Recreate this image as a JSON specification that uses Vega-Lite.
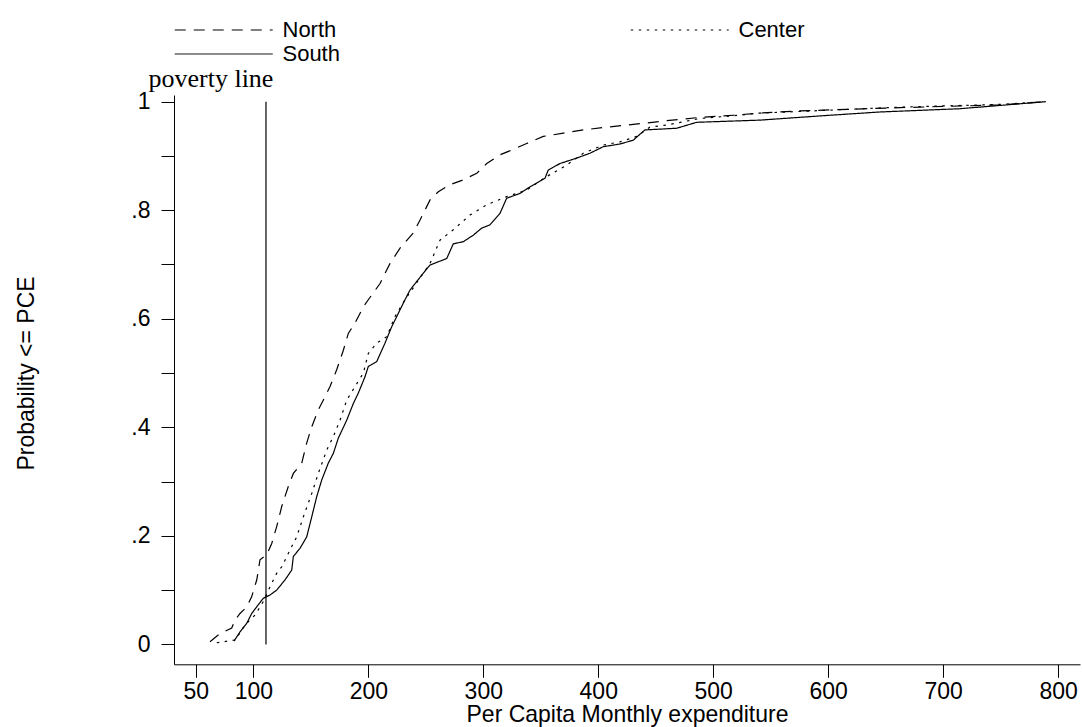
{
  "$schema": "https://vega.github.io/schema/vega-lite/v6.json",
  "width": 906,
  "height": 569.3,
  "autosize": {"type": "none"},
  "padding": {"left": 174, "top": 95, "right": 2, "bottom": 63},
  "background": "white",
  "config": {
    "view": {"stroke": null},
    "font": "Liberation Sans",
    "axis": {
      "domainColor": "black", "domainWidth": 1, "tickColor": "black", "tickWidth": 1,
      "labelColor": "black", "titleColor": "black", "titleFontWeight": "normal",
      "labelFont": "Liberation Sans", "titleFont": "Liberation Sans", "grid": false
    },
    "legend": {"labelFont": "Liberation Sans", "labelColor": "black"}
  },
  "datasets": {
    "cdf": [
      {"region":"North","pce":62.3,"p":0.005},{"region":"North","pce":71.0,"p":0.020},{"region":"North","pce":81.2,"p":0.030},{"region":"North","pce":84.1,"p":0.045},{"region":"North","pce":88.4,"p":0.057},{"region":"North","pce":94.3,"p":0.069},{"region":"North","pce":98.6,"p":0.088},{"region":"North","pce":103.0,"p":0.119},{"region":"North","pce":105.8,"p":0.156},{"region":"North","pce":111.7,"p":0.165},{"region":"North","pce":116.0,"p":0.186},{"region":"North","pce":120.3,"p":0.217},{"region":"North","pce":124.7,"p":0.254},{"region":"North","pce":130.4,"p":0.291},{"region":"North","pce":134.8,"p":0.315},{"region":"North","pce":142.1,"p":0.334},{"region":"North","pce":146.4,"p":0.371},{"region":"North","pce":150.8,"p":0.401},{"region":"North","pce":156.5,"p":0.432},{"region":"North","pce":162.3,"p":0.456},{"region":"North","pce":166.7,"p":0.475},{"region":"North","pce":172.5,"p":0.506},{"region":"North","pce":178.3,"p":0.542},{"region":"North","pce":182.6,"p":0.573},{"region":"North","pce":188.4,"p":0.592},{"region":"North","pce":195.7,"p":0.622},{"region":"North","pce":200.0,"p":0.635},{"region":"North","pce":210.2,"p":0.665},{"region":"North","pce":218.9,"p":0.702},{"region":"North","pce":227.6,"p":0.730},{"region":"North","pce":239.1,"p":0.758},{"region":"North","pce":245.0,"p":0.782},{"region":"North","pce":253.7,"p":0.819},{"region":"North","pce":260.9,"p":0.834},{"region":"North","pce":271.0,"p":0.847},{"region":"North","pce":282.6,"p":0.856},{"region":"North","pce":294.3,"p":0.868},{"region":"North","pce":303.0,"p":0.886},{"region":"North","pce":314.5,"p":0.902},{"region":"North","pce":326.1,"p":0.912},{"region":"North","pce":337.7,"p":0.923},{"region":"North","pce":352.2,"p":0.936},{"region":"North","pce":369.6,"p":0.942},{"region":"North","pce":387.0,"p":0.948},{"region":"North","pce":407.3,"p":0.953},{"region":"North","pce":430.4,"p":0.958},{"region":"North","pce":459.5,"p":0.965},{"region":"North","pce":488.4,"p":0.971},{"region":"North","pce":517.4,"p":0.975},{"region":"North","pce":540.6,"p":0.979},{"region":"North","pce":575.4,"p":0.983},{"region":"North","pce":662.3,"p":0.989},{"region":"North","pce":749.3,"p":0.994},{"region":"North","pce":789.3,"p":1.0},
      {"region":"Center","pce":68.2,"p":0.003},{"region":"Center","pce":84.1,"p":0.008},{"region":"Center","pce":88.4,"p":0.021},{"region":"Center","pce":92.8,"p":0.036},{"region":"Center","pce":101.5,"p":0.054},{"region":"Center","pce":108.7,"p":0.079},{"region":"Center","pce":114.5,"p":0.106},{"region":"Center","pce":120.3,"p":0.131},{"region":"Center","pce":124.7,"p":0.143},{"region":"Center","pce":131.9,"p":0.174},{"region":"Center","pce":137.7,"p":0.198},{"region":"Center","pce":143.5,"p":0.235},{"region":"Center","pce":150.8,"p":0.278},{"region":"Center","pce":156.5,"p":0.315},{"region":"Center","pce":163.8,"p":0.358},{"region":"Center","pce":169.6,"p":0.383},{"region":"Center","pce":175.4,"p":0.413},{"region":"Center","pce":181.2,"p":0.450},{"region":"Center","pce":188.4,"p":0.475},{"region":"Center","pce":195.7,"p":0.500},{"region":"Center","pce":200.0,"p":0.536},{"region":"Center","pce":207.3,"p":0.555},{"region":"Center","pce":216.0,"p":0.567},{"region":"Center","pce":223.2,"p":0.604},{"region":"Center","pce":231.9,"p":0.635},{"region":"Center","pce":253.7,"p":0.702},{"region":"Center","pce":262.4,"p":0.745},{"region":"Center","pce":273.9,"p":0.764},{"region":"Center","pce":288.4,"p":0.791},{"region":"Center","pce":303.0,"p":0.810},{"region":"Center","pce":320.3,"p":0.825},{"region":"Center","pce":337.7,"p":0.837},{"region":"Center","pce":355.1,"p":0.862},{"region":"Center","pce":372.5,"p":0.883},{"region":"Center","pce":387.0,"p":0.905},{"region":"Center","pce":404.3,"p":0.920},{"region":"Center","pce":418.9,"p":0.926},{"region":"Center","pce":433.4,"p":0.936},{"region":"Center","pce":444.9,"p":0.953},{"region":"Center","pce":459.5,"p":0.957},{"region":"Center","pce":488.4,"p":0.969},{"region":"Center","pce":517.4,"p":0.974},{"region":"Center","pce":540.6,"p":0.979},{"region":"Center","pce":575.4,"p":0.982},{"region":"Center","pce":662.3,"p":0.990},{"region":"Center","pce":749.3,"p":0.995},{"region":"Center","pce":789.3,"p":1.0},
      {"region":"South","pce":83.2,"p":0.006},{"region":"South","pce":88.4,"p":0.023},{"region":"South","pce":94.3,"p":0.039},{"region":"South","pce":98.6,"p":0.057},{"region":"South","pce":104.3,"p":0.073},{"region":"South","pce":108.7,"p":0.085},{"region":"South","pce":114.5,"p":0.091},{"region":"South","pce":120.3,"p":0.100},{"region":"South","pce":127.6,"p":0.119},{"region":"South","pce":133.4,"p":0.137},{"region":"South","pce":134.8,"p":0.162},{"region":"South","pce":140.6,"p":0.177},{"region":"South","pce":146.4,"p":0.198},{"region":"South","pce":150.8,"p":0.235},{"region":"South","pce":155.1,"p":0.272},{"region":"South","pce":159.5,"p":0.303},{"region":"South","pce":165.2,"p":0.334},{"region":"South","pce":169.6,"p":0.352},{"region":"South","pce":173.9,"p":0.380},{"region":"South","pce":181.2,"p":0.413},{"region":"South","pce":187.0,"p":0.444},{"region":"South","pce":191.3,"p":0.463},{"region":"South","pce":197.1,"p":0.493},{"region":"South","pce":200.0,"p":0.512},{"region":"South","pce":207.3,"p":0.521},{"region":"South","pce":214.5,"p":0.555},{"region":"South","pce":220.3,"p":0.585},{"region":"South","pce":226.1,"p":0.610},{"region":"South","pce":231.9,"p":0.635},{"region":"South","pce":236.3,"p":0.653},{"region":"South","pce":247.8,"p":0.684},{"region":"South","pce":253.7,"p":0.699},{"region":"South","pce":268.2,"p":0.711},{"region":"South","pce":273.9,"p":0.738},{"region":"South","pce":282.6,"p":0.742},{"region":"South","pce":291.3,"p":0.754},{"region":"South","pce":298.6,"p":0.767},{"region":"South","pce":305.8,"p":0.773},{"region":"South","pce":314.5,"p":0.794},{"region":"South","pce":320.3,"p":0.822},{"region":"South","pce":331.9,"p":0.831},{"region":"South","pce":340.6,"p":0.843},{"region":"South","pce":353.7,"p":0.859},{"region":"South","pce":356.5,"p":0.874},{"region":"South","pce":366.7,"p":0.886},{"region":"South","pce":381.2,"p":0.896},{"region":"South","pce":392.8,"p":0.905},{"region":"South","pce":404.3,"p":0.917},{"region":"South","pce":418.9,"p":0.922},{"region":"South","pce":430.4,"p":0.929},{"region":"South","pce":440.6,"p":0.948},{"region":"South","pce":468.2,"p":0.951},{"region":"South","pce":485.6,"p":0.962},{"region":"South","pce":540.6,"p":0.966},{"region":"South","pce":601.5,"p":0.975},{"region":"South","pce":645.0,"p":0.981},{"region":"South","pce":714.5,"p":0.987},{"region":"South","pce":789.3,"p":1.0}
    ],
    "poverty": [{"label": "poverty line", "pl": 111}]
  },
  "layer": [
    {
      "data": {"name": "cdf"},
      "mark": {"type": "line", "color": "black", "strokeWidth": 1.2},
      "encoding": {
        "x": {
          "field": "pce", "type": "quantitative",
          "scale": {"domain": [31, 819], "nice": false, "zero": false},
          "axis": {
            "values": [50, 100, 200, 300, 400, 500, 600, 700, 800],
            "title": "Per Capita Monthly expenditure",
            "tickSize": 13, "labelPadding": 3, "labelFontSize": 23, "titleFontSize": 23,
            "labelFlush": false, "labelOverlap": false, "labelBound": false,
            "titleBaseline": "alphabetic", "titleY": 57.4, "titlePadding": 0
          }
        },
        "y": {
          "field": "p", "type": "quantitative",
          "scale": {"domain": [-0.0367, 1.0123], "nice": false, "zero": false},
          "axis": {
            "values": [0, 0.1, 0.2, 0.3, 0.4, 0.5, 0.6, 0.7, 0.8, 0.9, 1],
            "labelExpr": "round(datum.value*10) % 2 == 1 ? '' : (datum.value < 0.001 ? '0' : (datum.value > 0.999 ? '1' : '.' + round(datum.value*10)))",
            "title": "Probability <= PCE",
            "tickSize": 13, "labelPadding": 11, "labelFontSize": 23, "titleFontSize": 23,
            "labelAngle": 0, "labelAlign": "right", "labelBaseline": "middle",
            "labelFlush": false, "labelOverlap": false, "labelBound": false,
            "titleX": -148, "titleY": 278, "titleAngle": -90, "titleAlign": "center", "titleBaseline": "middle"
          }
        },
        "strokeDash": {
          "field": "region", "type": "nominal",
          "scale": {"domain": ["North", "Center", "South"], "range": [[11, 8], [2.5, 5.5], [1, 0]]},
          "legend": {
            "title": null, "orient": "none", "legendX": 0, "legendY": -78, "columns": 2,
            "direction": "horizontal", "gridAlign": "each", "columnPadding": 288, "rowPadding": -1.5,
            "padding": 0, "symbolType": "M-1,0H7", "symbolSize": 600,
            "symbolStrokeColor": "black", "symbolStrokeWidth": 1, "symbolFillColor": "transparent",
            "labelOffset": 82.5, "labelFontSize": 22, "labelBaseline": "middle", "labelLimit": 0
          }
        }
      }
    },
    {
      "data": {"name": "poverty"},
      "mark": {"type": "rule", "color": "black", "strokeWidth": 1.2},
      "encoding": {
        "x": {"field": "pl", "type": "quantitative"},
        "y": {"datum": 0},
        "y2": {"datum": 1}
      }
    },
    {
      "data": {"name": "poverty"},
      "mark": {"type": "text", "font": "Liberation Serif", "fontSize": 26, "color": "black", "align": "center", "baseline": "alphabetic", "dx": -55},
      "encoding": {
        "x": {"field": "pl", "type": "quantitative"},
        "y": {"datum": 1.027},
        "text": {"field": "label"}
      }
    }
  ]
}
